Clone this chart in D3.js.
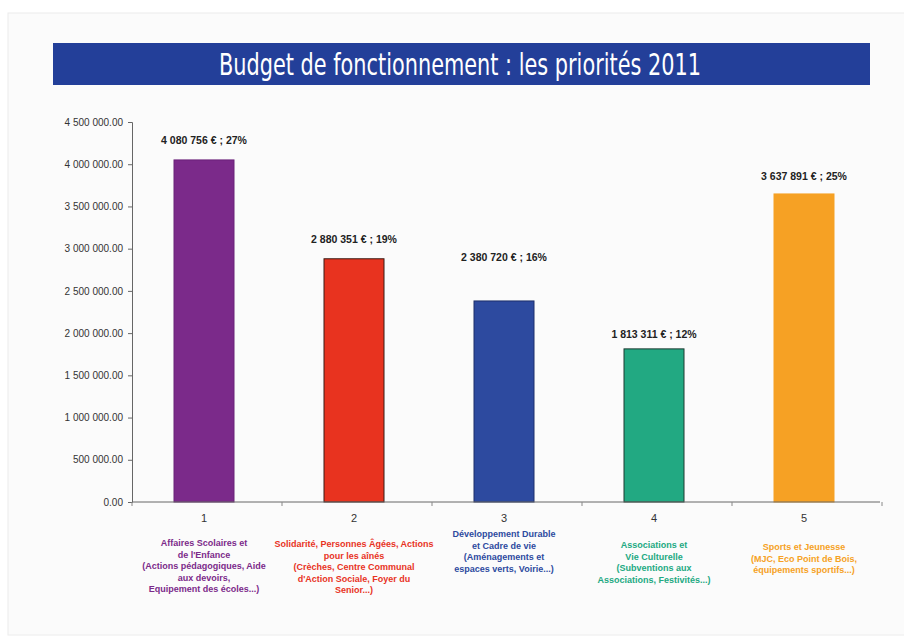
<!DOCTYPE html>
<html>
<head>
<meta charset="utf-8">
<script src="https://cdn.jsdelivr.net/npm/d3@7"></script>
<style>
  body { margin: 0; background: #fff; }
  svg { display: block; }
</style>
</head>
<body>
<div id="main"></div>
<script>
const categories = ["1", "2", "3", "4", "5"];
const values = [4050756, 2880351, 2380720, 1813311, 3647891];
const valueLabels = ["4 080 756 € ; 27%", "2 880 351 € ; 19%", "2 380 720 € ; 16%", "1 813 311 € ; 12%", "3 637 891 € ; 25%"];
const descriptions = [
  ["Affaires Scolaires et", "de l'Enfance", "(Actions pédagogiques, Aide", "aux devoirs,", "Equipement des écoles...)"],
  ["Solidarité, Personnes Âgées, Actions", "pour les aînés", "(Crèches, Centre Communal", "d'Action Sociale, Foyer du", "Senior...)"],
  ["Développement Durable", "et Cadre de vie", "(Aménagements et", "espaces verts, Voirie...)"],
  ["Associations et", "Vie Culturelle", "(Subventions aux", "Associations, Festivités...)"],
  ["Sports et Jeunesse", "(MJC, Eco Point de Bois,", "équipements sportifs...)"]
];
const yTicks = [0, 500000, 1000000, 1500000, 2000000, 2500000, 3000000, 3500000, 4000000, 4500000];
const title = "Budget de fonctionnement : les priorités 2011";

const colors = ["#7b2a8a", "#e8331f", "#2d4a9f", "#22a982", "#f6a124"];
const strokes = ["#6a2279", "#3a1a14", "#1d2f6a", "#1c3a30", "#f6a124"];
const labelLift = [16, 16, 40, 11, 14];
const descTop = [546, 547, 537, 548, 550];

const width = 904;
const height = 638;
const margin = { top: 122, right: 25, bottom: 136, left: 132 };

const svg = d3.select("#main").append("svg")
  .attr("width", width)
  .attr("height", height);

// panel background
svg.append("rect")
  .attr("x", 8).attr("y", 13)
  .attr("width", 900).attr("height", 622)
  .attr("fill", "#fbfbfb")
  .attr("stroke", "#ececec");

// title bar
svg.append("rect")
  .attr("x", 53).attr("y", 43)
  .attr("width", 817).attr("height", 42)
  .attr("fill", "#233f99");

svg.append("text")
  .attr("x", 219).attr("y", 75)
  .attr("fill", "#fff")
  .attr("textLength", 482)
  .attr("lengthAdjust", "spacingAndGlyphs")
  .style("font-family", "'DejaVu Sans Condensed', 'Liberation Sans', sans-serif")
  .style("font-size", "31px")
  .text(title);

const x = d3.scaleBand()
  .domain(categories)
  .range([129, 879])
  .paddingInner(0.6)
  .paddingOuter(0.3);

const y = d3.scaleLinear()
  .domain([0, 4500000])
  .range([height - margin.bottom, margin.top]);

const fmt = d3.formatLocale({ decimal: ".", thousands: " ", grouping: [3], currency: ["", ""] }).format(",.2f");

// y axis
const yAxis = svg.append("g")
  .attr("transform", `translate(${margin.left},0)`)
  .call(d3.axisLeft(y).tickValues(yTicks).tickFormat(fmt).tickSize(4).tickPadding(5));
yAxis.select(".domain").attr("stroke", "#666");
yAxis.selectAll(".tick line").attr("stroke", "#666");
yAxis.selectAll("text")
  .attr("fill", "#333")
  .style("font-family", "'Liberation Sans', Arial, sans-serif")
  .style("font-size", "10px");

// bars
svg.append("g")
  .selectAll("rect")
  .data(values)
  .enter()
  .append("rect")
  .attr("x", (d, i) => x(categories[i]))
  .attr("y", d => y(d))
  .attr("width", x.bandwidth())
  .attr("height", d => y(0) - y(d))
  .attr("fill", (d, i) => colors[i])
  .attr("stroke", (d, i) => strokes[i])
  .attr("stroke-width", 1);

// x axis
const bw = x.step();
const xAxis = svg.append("g")
  .attr("transform", `translate(0,${y(0)})`);
xAxis.append("line")
  .attr("x1", margin.left).attr("x2", 880)
  .attr("stroke", "#666");
xAxis.selectAll(".sep")
  .data(d3.range(categories.length + 1))
  .enter()
  .append("line")
  .attr("x1", i => margin.left + i * bw)
  .attr("x2", i => margin.left + i * bw)
  .attr("y1", 0).attr("y2", 4)
  .attr("stroke", "#888");

svg.append("g")
  .selectAll("text")
  .data(categories)
  .enter()
  .append("text")
  .attr("x", d => x(d) + x.bandwidth() / 2)
  .attr("y", y(0) + 20)
  .attr("text-anchor", "middle")
  .attr("fill", "#333")
  .style("font-family", "'Liberation Sans', Arial, sans-serif")
  .style("font-size", "11px")
  .text(d => d);

// value labels
svg.append("g")
  .selectAll("text")
  .data(values)
  .enter()
  .append("text")
  .attr("x", (d, i) => x(categories[i]) + x.bandwidth() / 2)
  .attr("y", (d, i) => y(d) - labelLift[i])
  .attr("text-anchor", "middle")
  .attr("fill", "#222")
  .style("font-family", "'Liberation Sans', Arial, sans-serif")
  .style("font-size", "10.5px")
  .style("font-weight", "bold")
  .text((d, i) => valueLabels[i]);

// descriptions
const desc = svg.append("g")
  .selectAll("text")
  .data(descriptions)
  .enter()
  .append("text")
  .attr("text-anchor", "middle")
  .attr("fill", (d, i) => colors[i])
  .style("font-family", "'Liberation Sans', Arial, sans-serif")
  .style("font-size", "9px")
  .style("font-weight", "bold");

desc.each(function(lines, i) {
  const cx = x(categories[i]) + x.bandwidth() / 2;
  d3.select(this).selectAll("tspan")
    .data(lines)
    .enter()
    .append("tspan")
    .attr("x", cx)
    .attr("y", (l, j) => descTop[i] + j * 11.5)
    .text(l => l);
});
</script>
</body>
</html>
